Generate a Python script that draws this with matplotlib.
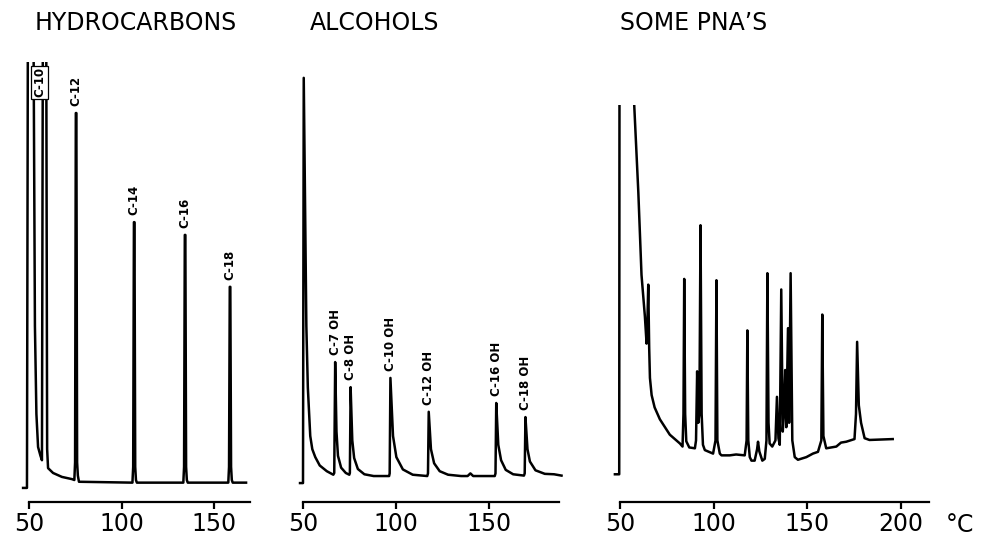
import matplotlib
matplotlib.use("Agg")
import matplotlib.pyplot as plt

# ---------------- data (temperature in deg C, detector signal in % of full scale) -------------
titles = ["HYDROCARBONS", "ALCOHOLS", "SOME PNA’S"]

hc_trace = [(46.8, 3.2), (48.9, 3.2), (49.4, 110), (52.4, 110), (53.2, 40), (54.0, 20), (54.9, 12.5),
            (56.2, 10.5), (57.0, 9.5), (57.5, 110), (59.3, 110), (59.8, 12), (60.3, 7.7), (63.0, 6.6),
            (67.8, 5.7), (73.2, 5.2), (74.5, 5.0), (74.9, 9), (75.3, 88.4), (75.6, 88.4), (76.0, 9),
            (76.4, 6.0), (77.0, 4.6), (105.9, 4.4), (106.3, 8), (106.7, 63.6), (107.0, 63.6), (107.4, 8),
            (107.8, 5.0), (108.3, 4.4), (133.4, 4.4), (133.8, 8), (134.2, 60.7), (134.5, 60.7), (134.9, 8),
            (135.3, 5.0), (135.8, 4.4), (157.7, 4.4), (158.1, 8), (158.5, 48.9), (158.8, 48.9),
            (159.2, 8), (159.6, 5.0), (160.1, 4.4), (167.3, 4.4)]
hc_labels = ["C-12", "C-14", "C-16", "C-18"]
hc_label_temp = [75.4, 106.8, 134.3, 158.6]
hc_label_peak = [88.4, 63.6, 60.7, 48.9]
hc_boxed_label = "C-10"
hc_boxed_temp = 55.8

al_trace = [(48.4, 4.3), (50.0, 4.3), (50.4, 96.4), (51.8, 40), (52.6, 26), (53.9, 15.0), (55.0, 12.0),
            (56.6, 10.2), (59.0, 8.3), (62.8, 7.0), (66.3, 6.2), (66.8, 6.6), (67.3, 31.8), (68.0, 16),
            (68.8, 10.5), (70.5, 7.8), (73.0, 6.6), (74.9, 6.2), (75.2, 6.6), (75.6, 26.1), (76.5, 14),
            (77.5, 10), (79.5, 7.5), (83.0, 6.3), (88.0, 5.9), (96.3, 5.9), (96.6, 6.5), (97.0, 28.2),
            (98.4, 15), (100.2, 10.2), (103.7, 7.4), (109.0, 6.2), (116.8, 5.9), (117.2, 6.5),
            (117.6, 20.5), (118.8, 12), (120.5, 8.8), (123.5, 7.0), (128.0, 6.2), (135.0, 5.9),
            (138.5, 5.9), (140.0, 6.5), (141.5, 5.9), (145.0, 5.9), (153.1, 5.9), (153.5, 6.5),
            (153.9, 22.5), (155.0, 13), (156.5, 9.5), (159.0, 7.3), (163.0, 6.3), (168.8, 6.0),
            (169.2, 6.5), (169.6, 19.3), (170.7, 12), (172.0, 9.2), (175.0, 7.2), (180.0, 6.4),
            (185.0, 6.3), (189.0, 6.0)]
al_labels = ["C-7 OH", "C-8 OH", "C-10 OH", "C-12 OH", "C-16 OH", "C-18 OH"]
al_label_temp = [67.3, 75.6, 97.0, 117.6, 153.9, 169.6]
al_label_peak = [31.8, 26.1, 28.2, 20.5, 22.5, 19.3]

pna_trace = [(47.3, 6.3), (49.6, 6.3), (49.8, 130), (57.3, 130), (57.6, 90.3), (59.8, 70.4), (61.5, 51.6),
             (63.3, 42.2), (64.2, 36.0), (64.6, 40), (65.1, 49.4), (65.6, 35), (66.0, 28.2), (66.9, 24.3),
             (68.5, 21.5), (71.3, 18.8), (76.6, 15.3), (82.0, 13.3), (83.4, 12.6), (83.9, 20), (84.3, 50.7),
             (84.8, 20), (85.4, 13.8), (87.0, 12.4), (90.0, 12.2), (90.6, 14), (91.2, 29.7), (91.8, 18),
             (92.4, 20), (93.0, 62.9), (93.6, 20), (94.3, 13), (95.3, 11.8), (99.7, 11.0), (101.0, 14),
             (101.5, 50.4), (102.0, 14), (103.3, 11.0), (104.2, 10.6), (108.6, 10.6), (112.0, 10.8),
             (116.6, 10.6), (117.6, 14), (118.0, 39.0), (118.5, 14), (119.3, 10.2), (120.2, 9.4),
             (121.9, 9.4), (123.2, 12), (123.7, 13.7), (124.4, 11.5), (126.0, 9.4), (127.3, 9.8),
             (128.2, 14), (128.7, 52.0), (129.3, 18), (129.9, 13.3), (131.3, 12.6), (133.0, 14),
             (133.8, 23.9), (134.6, 14.5), (135.3, 13), (136.1, 48.3), (136.9, 16), (137.5, 20),
             (138.2, 30), (138.8, 17), (139.7, 39.5), (140.3, 18), (141.1, 52.0), (142.0, 14),
             (143.3, 10.2), (145.0, 9.6), (149.5, 10.2), (153.0, 11.0), (155.7, 11.4), (157.5, 14),
             (158.0, 42.6), (158.6, 15), (160.1, 12.2), (165.5, 12.6), (168.0, 13.5), (170.8, 13.7),
             (175.2, 14.3), (176.0, 20), (176.6, 36.4), (177.5, 22), (178.7, 18.0), (180.6, 14.5),
             (183.2, 14.1), (195.6, 14.3)]

ticks_12 = [50, 100, 150]
ticks_3 = [50, 100, 150, 200]
axis_ends = [169.5, 187.4, 214.8]
unit_label = "°C"

# ---------------- layout ----------------
W, H = 981, 538
fig = plt.figure(figsize=(W / 100, H / 100), dpi=100)

def px_axes(left, top, width, height):
    return fig.add_axes([left / W, 1 - (top + height) / H, width / W, height / H])

spine_y = 502
# (left px, width px, xlim, top px, ylim top)
panels = [
    (19.75, 235.0, (45, 172), 62, 100.0),
    (293.7, 273.4, (45, 192), 62, 100.0),
    (610.6, 322.2, (45, 217), 105, (spine_y - 105) / 4.4),
]
traces = [hc_trace, al_trace, pna_trace]
ticks = [ticks_12, ticks_12, ticks_3]

label_font = dict(family=["Liberation Sans Narrow", "DejaVu Sans"], fontweight="bold", fontsize=8.5)

axes = []
for i, (left, width, xl, top, ytop) in enumerate(panels):
    ax = px_axes(left, top, width, spine_y - top)
    t = [p[0] for p in traces[i]]
    s = [p[1] for p in traces[i]]
    ax.plot(t, s, color="black", lw=1.8, solid_joinstyle="round")
    ax.set_xlim(*xl)
    ax.set_ylim(0, ytop)
    for sp in ["top", "left", "right"]:
        ax.spines[sp].set_visible(False)
    ax.spines["bottom"].set_linewidth(1.6)
    ax.spines["bottom"].set_bounds(50, axis_ends[i])
    ax.set_yticks([])
    ax.set_xticks(ticks[i])
    ax.tick_params(axis="x", direction="out", length=5, width=1.6, pad=2.5,
                   labelsize=17)
    ax.patch.set_visible(False)
    axes.append(ax)

# hydrocarbon peak labels
ax1 = axes[0]
for lab, tt, pk in zip(hc_labels, hc_label_temp, hc_label_peak):
    ax1.annotate(lab, (tt, pk), xytext=(0, 5), textcoords="offset points",
                 rotation=90, ha="center", va="bottom", **label_font)
ax1.text(hc_boxed_temp, 98.8, hc_boxed_label, rotation=90, ha="center", va="top",
         bbox=dict(boxstyle="square,pad=0.15", fc="white", ec="black", lw=0.9), **label_font)

# alcohol peak labels
ax2 = axes[1]
for lab, tt, pk in zip(al_labels, al_label_temp, al_label_peak):
    ax2.annotate(lab, (tt, pk), xytext=(0, 5), textcoords="offset points",
                 rotation=90, ha="center", va="bottom", **label_font)

# titles
title_x = [35, 310, 620]
for tx, ttl in zip(title_x, titles):
    fig.text(tx / W, 1 - 11 / H, ttl, ha="left", va="top", fontsize=17, family="DejaVu Sans")

fig.text(960 / W, 1 - 525 / H, unit_label, ha="center", va="center", fontsize=17, family="DejaVu Sans")

fig.savefig("out.png", dpi=100)
